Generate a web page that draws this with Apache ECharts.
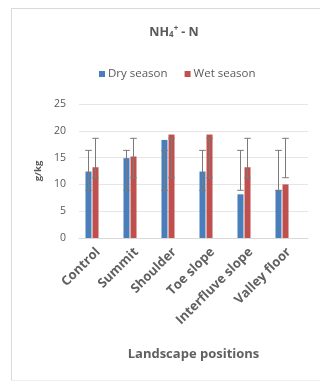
<!DOCTYPE html>
<html><head><meta charset="utf-8">
<script src="https://cdn.jsdelivr.net/npm/echarts@6/dist/echarts.min.js"></script>
<style>html,body{margin:0;padding:0;background:#fff}#c{width:320px;height:381px}</style>
</head><body><div id="c"></div>
<script>
const categories = ['Control', 'Summit', 'Shoulder', 'Toe slope', 'Interfluve slope', 'Valley floor'];
const drySeason = [12.4, 14.9, 18.3, 12.4, 8.15, 8.95];
const wetSeason = [13.2, 15.2, 19.3, 19.3, 13.2, 10.0];
const dryErrLow = [8.9, 8.9, 8.9, 8.9, 8.9, 8.9];
const dryErrHigh = [16.35, 16.35, 16.35, 16.35, 16.35, 16.35];
const wetErrLow = [11.25, 11.25, 11.25, 11.25, 11.25, 11.25];
const wetErrHigh = [18.6, 18.6, 18.6, 18.6, 18.6, 18.6];
const yTicks = [0, 5, 10, 15, 20, 25];

const chart = echarts.init(document.getElementById('c'), null, {renderer: 'canvas'});
const FONT = '"Open Sans", "Liberation Sans", sans-serif';
const GRAY = '#595959';
const BAR_W = 6;
const GAP = 1;

function errSeries(name, low, high, sign) {
  return {
    type: 'custom', xAxisIndex: 1, yAxisIndex: 1, z: 5, silent: true,
    data: categories.map((c, i) => [i, low[i], high[i]]),
    renderItem: function (params, api) {
      const lo = api.coord([api.value(0), api.value(1)]);
      const hi = api.coord([api.value(0), api.value(2)]);
      const x = lo[0] + sign * (BAR_W + GAP) / 2;
      const h = 3.3;
      const st = {stroke: '#7a7a7a', lineWidth: 1};
      return {type: 'group', children: [
        {type: 'line', shape: {x1: x, y1: lo[1], x2: x, y2: hi[1]}, style: st},
        {type: 'line', shape: {x1: x - h, y1: lo[1], x2: x + h, y2: lo[1]}, style: st},
        {type: 'line', shape: {x1: x - h, y1: hi[1], x2: x + h, y2: hi[1]}, style: st}
      ]};
    }
  };
}

chart.setOption({
  animation: false,
  textStyle: {fontFamily: FONT},
  title: {
    text: '{a|NH}{s|4}{p|+}{a|- N}', left: 169, top: 20, textAlign: 'center',
    textStyle: {rich: {
      a: {fontSize: 12.5, color: GRAY, fontFamily: FONT},
      s: {fontSize: 8, color: GRAY, fontFamily: FONT, verticalAlign: 'bottom', padding: [6, 0, 0, 0]},
      p: {fontSize: 8, color: GRAY, fontFamily: FONT, verticalAlign: 'top', padding: [0, 3, 6, 0]}
    }}
  },
  legend: {
    top: 63, left: 94, itemWidth: 6, itemHeight: 6, itemGap: 17,
    icon: 'rect',
    textStyle: {fontSize: 11.5, color: GRAY, fontFamily: FONT, padding: [0, 0, 0, -2]},
    data: ['Dry season', 'Wet season']
  },
  graphic: [
    {type: 'line', shape: {x1: 11, y1: 8.5, x2: 320, y2: 8.5}, style: {stroke: '#d9d9d9', lineWidth: 1}},
    {type: 'line', shape: {x1: 11.5, y1: 8, x2: 11.5, y2: 381}, style: {stroke: '#d9d9d9', lineWidth: 1}},
    {type: 'line', shape: {x1: 11, y1: 380.5, x2: 320, y2: 380.5}, style: {stroke: '#eeeeee', lineWidth: 1}}
  ],
  grid: [
    {left: 79, right: 12, top: 104, bottom: 143},
    {left: 73, right: 19, top: 104, bottom: 143}
  ],
  xAxis: [
    {type: 'category', gridIndex: 0, data: categories,
     axisLine: {lineStyle: {color: '#d9d9d9'}}, axisTick: {show: false},
     axisLabel: {rotate: 45, interval: 0, fontSize: 13, fontWeight: 'bold', color: '#606060', margin: 12, fontFamily: FONT},
     name: 'Landscape positions', nameLocation: 'middle', nameGap: 110,
     nameTextStyle: {fontSize: 13, fontWeight: 'bold', color: '#606060', fontFamily: FONT}},
    {type: 'category', gridIndex: 1, data: categories, show: false}
  ],
  yAxis: [
    {type: 'value', gridIndex: 0, min: yTicks[0], max: yTicks[yTicks.length - 1], interval: 5,
     axisLine: {show: false}, axisTick: {show: false},
     axisLabel: {fontSize: 10.5, color: GRAY, margin: 13, fontFamily: FONT},
     splitLine: {lineStyle: {color: '#e6e6e6'}},
     name: 'g/kg', nameLocation: 'middle', nameGap: 25, nameRotate: 90,
     nameTextStyle: {fontSize: 9.5, fontWeight: 'bold', color: GRAY, fontFamily: FONT}},
    {type: 'value', gridIndex: 1, min: yTicks[0], max: yTicks[yTicks.length - 1], show: false, splitLine: {show: false}}
  ],
  series: [
    {name: 'Dry season', type: 'bar', xAxisIndex: 1, yAxisIndex: 1, data: drySeason,
     barWidth: BAR_W, barGap: '17%', itemStyle: {color: '#4a7ebb'}},
    {name: 'Wet season', type: 'bar', xAxisIndex: 1, yAxisIndex: 1, data: wetSeason,
     barWidth: BAR_W, barGap: '17%', itemStyle: {color: '#c0504d'}},
    errSeries('dryErr', dryErrLow, dryErrHigh, -1),
    errSeries('wetErr', wetErrLow, wetErrHigh, 1)
  ]
});
</script></body></html>
